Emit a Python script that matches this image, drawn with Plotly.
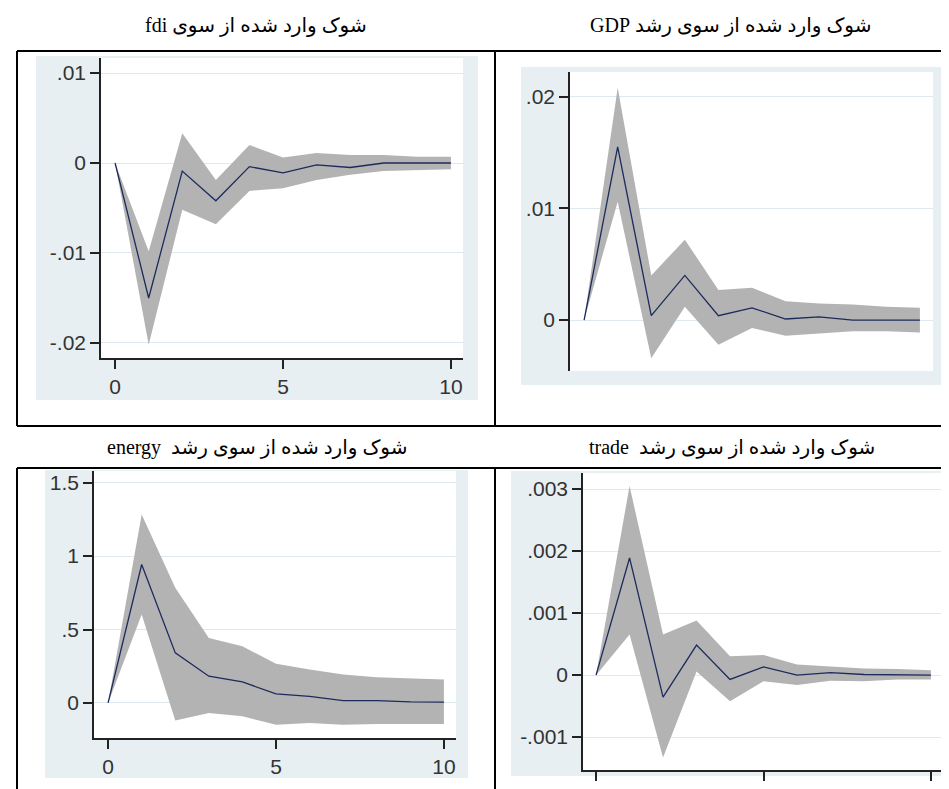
import plotly.graph_objects as go

W, H = 949, 789

# forecast horizon
steps = [0, 1, 2, 3, 4, 5, 6, 7, 8, 9, 10]

# impulse responses (irf) with upper / lower confidence bounds
fdi_irf = [0, -0.0150, -0.0009, -0.0042, -0.0004, -0.0011, -0.0002, -0.0005, 0, 0, 0]
fdi_up = [0, -0.0098, 0.0033, -0.0019, 0.0020, 0.0006, 0.0011, 0.0009, 0.0009, 0.0007, 0.0007]
fdi_lo = [0, -0.0202, -0.0052, -0.0068, -0.0031, -0.0028, -0.0019, -0.0013, -0.0009, -0.0008, -0.0007]

gdp_irf = [0, 0.0155, 0.0004, 0.0040, 0.0004, 0.0011, 0.0001, 0.0003, 0, 0, 0]
gdp_up = [0, 0.0208, 0.0040, 0.0072, 0.0027, 0.0029, 0.0017, 0.0015, 0.0014, 0.0012, 0.0011]
gdp_lo = [0, 0.0106, -0.0034, 0.0012, -0.0022, -0.0007, -0.0014, -0.0012, -0.0010, -0.0010, -0.0011]

energy_irf = [0, 0.943, 0.341, 0.182, 0.143, 0.061, 0.045, 0.016, 0.016, 0.007, 0.005]
energy_up = [0, 1.284, 0.784, 0.443, 0.386, 0.266, 0.227, 0.193, 0.175, 0.166, 0.159]
energy_lo = [0, 0.602, -0.120, -0.068, -0.091, -0.148, -0.136, -0.148, -0.144, -0.144, -0.144]

trade_irf = [0, 0.00189, -0.000355, 0.000484, -0.00007, 0.000134, 0, 0.00004, 0.00001, 0, 0]
trade_up = [0, 0.00305, 0.000656, 0.00088, 0.000306, 0.000323, 0.000172, 0.000145, 0.000108, 0.0001, 0.00008]
trade_lo = [0, 0.000656, -0.00133, 0.00006, -0.00042, -0.0001, -0.00016, -0.00009, -0.0001, -0.00007, -0.00007]

# tick values / labels
fdi_ticks = [-0.02, -0.01, 0, 0.01]
fdi_labels = ["-.02", "-.01", "0", ".01"]
gdp_ticks = [0, 0.01, 0.02]
gdp_labels = ["0", ".01", ".02"]
energy_ticks = [0, 0.5, 1, 1.5]
energy_labels = ["0", ".5", "1", "1.5"]
trade_ticks = [-0.001, 0, 0.001, 0.002, 0.003]
trade_labels = ["-.001", "0", ".001", ".002", ".003"]
x_ticks = [0, 5, 10]
x_labels = ["0", "5", "10"]

titles = [
    "شوک وارد شده از سوی fdi",
    "شوک وارد شده از سوی رشد GDP",
    "شوک وارد شده از سوی رشد  energy",
    "شوک وارد شده از سوی رشد  trade",
]


def fx(p):
    return p / W


def fy(p):
    return 1 - p / H


BAND = "#b3b3b3"
LINE = "#1c2b5c"
LIGHT = "#e7eff2"
GRID = "#dde9ee"
AXIS = "#222222"
TICKFONT = dict(family="Arial, Liberation Sans, sans-serif", size=21, color="#333333")

# panel geometry in pixels: plot area and surrounding graph region
panels = [
    dict(n="", irf=fdi_irf, up=fdi_up, lo=fdi_lo, plot=(93, 455, 50, 350),
         region=(28, 470, 48, 392), xr=[-0.42, 10.36], yr=[-0.02167, 0.01167],
         yt=fdi_ticks, yl=fdi_labels, xaxis=True, xlab=True),
    dict(n="2", irf=gdp_irf, up=gdp_up, lo=gdp_lo, plot=(562, 925, 64, 363),
         region=(513, 935, 59, 377), xr=[-0.42, 10.39], yr=[-0.00455, 0.0222],
         yt=gdp_ticks, yl=gdp_labels, xaxis=False, xlab=False),
    dict(n="3", irf=energy_irf, up=energy_up, lo=energy_lo, plot=(86, 448, 463, 730),
         region=(37, 460, 462, 770), xr=[-0.42, 10.36], yr=[-0.239, 1.58],
         yt=energy_ticks, yl=energy_labels, xaxis=True, xlab=True),
    dict(n="4", irf=trade_irf, up=trade_up, lo=trade_lo, plot=(575, 935, 465, 762),
         region=(503, 947, 463, 768), xr=[-0.39, 10.36], yr=[-0.00153, 0.00326],
         yt=trade_ticks, yl=trade_labels, xaxis=True, xlab=False),
]

fig = go.Figure()
shapes = []
layout = {}

for p in panels:
    xa, ya = "x" + p["n"], "y" + p["n"]
    fig.add_trace(go.Scatter(x=steps, y=p["up"], xaxis=xa, yaxis=ya, mode="lines",
                             line=dict(width=0, color=BAND), showlegend=False, hoverinfo="skip"))
    fig.add_trace(go.Scatter(x=steps, y=p["lo"], xaxis=xa, yaxis=ya, mode="lines",
                             line=dict(width=0, color=BAND), fill="tonexty", fillcolor=BAND,
                             showlegend=False, hoverinfo="skip"))
    fig.add_trace(go.Scatter(x=steps, y=p["irf"], xaxis=xa, yaxis=ya, mode="lines",
                             line=dict(width=1.3, color=LINE), showlegend=False))

    x0, x1, y0, y1 = p["plot"]
    rx0, rx1, ry0, ry1 = p["region"]
    shapes.append(dict(type="rect", xref="paper", yref="paper", layer="below",
                       x0=fx(rx0), x1=fx(rx1), y0=fy(ry1), y1=fy(ry0),
                       fillcolor=LIGHT, line=dict(width=0)))
    shapes.append(dict(type="rect", xref="paper", yref="paper", layer="below",
                       x0=fx(x0), x1=fx(x1), y0=fy(y1), y1=fy(y0),
                       fillcolor="white", line=dict(width=0)))

    layout["xaxis" + p["n"]] = dict(
        domain=[fx(x0), fx(x1)], range=p["xr"], anchor=ya,
        showgrid=False, zeroline=False, showline=p["xaxis"], linecolor=AXIS, linewidth=1.6,
        tickmode="array", tickvals=x_ticks, ticktext=x_labels,
        ticks="outside" if p["xaxis"] else "", ticklen=9, tickwidth=1.6, tickcolor=AXIS,
        showticklabels=p["xlab"], tickfont=TICKFONT,
    )
    layout["yaxis" + p["n"]] = dict(
        domain=[fy(y1), fy(y0)], range=p["yr"], anchor=xa,
        showgrid=True, gridcolor=GRID, gridwidth=1, zeroline=False,
        showline=True, linecolor=AXIS, linewidth=1.6,
        tickmode="array", tickvals=p["yt"], ticktext=p["yl"],
        ticks="outside", ticklen=9, tickwidth=1.6, tickcolor=AXIS, tickfont=TICKFONT,
    )

# table borders
border = dict(color="black", width=2)
for (ax0, ay0, ax1, ay1) in [(9, 43, 949, 43), (9, 43, 9, 418), (487, 43, 487, 418),
                             (9, 418, 949, 418), (9, 460, 949, 460), (9, 460, 9, 789),
                             (487, 460, 487, 789)]:
    shapes.append(dict(type="line", xref="paper", yref="paper",
                       x0=fx(ax0), x1=fx(ax1), y0=fy(ay0), y1=fy(ay1), line=border))

annotations = []
for t, (cx, cy) in zip(titles, [(248, 18), (722, 18), (249, 440), (724, 440)]):
    annotations.append(dict(text="\u202b" + t + "\u202c", xref="paper", yref="paper",
                            x=fx(cx), y=fy(cy), showarrow=False,
                            xanchor="center", yanchor="middle",
                            font=dict(family="Times New Roman, Liberation Serif, DejaVu Sans, serif",
                                      size=20, color="black")))

fig.update_layout(
    width=W, height=H,
    margin=dict(l=0, r=0, t=0, b=0),
    paper_bgcolor="white",
    plot_bgcolor="rgba(0,0,0,0)",
    shapes=shapes,
    annotations=annotations,
    showlegend=False,
    **layout,
)

fig.write_html("out.html")
